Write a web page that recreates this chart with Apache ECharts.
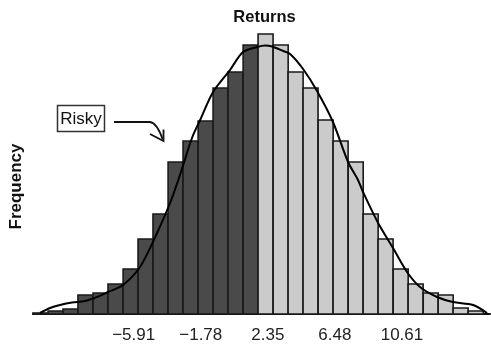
<!DOCTYPE html>
<html><head><meta charset="utf-8">
<script src="https://cdn.jsdelivr.net/npm/echarts@6/dist/echarts.min.js"></script>
<style>html,body{margin:0;padding:0;background:#fff}#c{width:491px;height:345px}</style>
</head><body><div id="c"></div>
<script>
// Histogram bins (bin centres, in return units) and frequencies
const binWidth = 0.924;
const riskyCenters = [-11.65,-10.72,-9.80,-8.88,-7.95,-7.03,-6.10,-5.18,-4.26,-3.33,-2.41,-1.48,-0.56,0.36,1.29];
const riskyFreq    = [1,3,5,19,21,30,45,75,100,152,173,193,226,242,269];
const safeCenters  = [2.21,3.14,4.06,4.98,5.91,6.83,7.76,8.68,9.60,10.53,11.45,12.38,13.30,14.22,15.15];
const safeFreq     = [280,269,242,226,194,173,152,100,75,45,30,21,19,6,3];
// Fitted density curve
const curveX = [-11.68,-11.06,-10.45,-9.71,-8.91,-8.17,-7.49,-6.57,-5.52,-4.47,-3.67,-3.06,-2.32,-1.82,-1.02,0.02,0.82,1.69,2.18,2.61,3.29,3.72,4.52,5.38,6.36,7.29,7.90,8.21,9.14,10.06,10.92,11.72,12.77,13.75,14.99,15.85];
const curveY = [1,6,9,11.5,13,17,22,29,47,81,111,139,176,194,222,244,262,267,268.5,267.5,263,260,245,223,192,152,134,122,91,66,42,27,17,12,9,1];
// Axis tick labels
const tickValues = [-5.91,-1.78,2.35,6.48,10.61];
const tickLabels = ['\u22125.91','\u22121.78','2.35','6.48','10.61'];

const FONT = '"Liberation Sans", Arial, Helvetica, sans-serif';
const chart = echarts.init(document.getElementById('c'), null, {renderer:'canvas'});

function barRender(fill){
  return function(params, api){
    const lo = api.coord([api.value(0) - binWidth/2, 0]);
    const hi = api.coord([api.value(0) + binWidth/2, api.value(1)]);
    return {
      type:'rect',
      shape:{x:lo[0], y:hi[1], width:hi[0]-lo[0], height:lo[1]-hi[1]},
      style:{fill:fill, stroke:'#1a1a1a', lineWidth:1.6}
    };
  };
}

chart.setOption({
  animation:false,
  backgroundColor:'#fff',
  grid:{left:33, right:1, top:14, bottom:31},
  xAxis:{
    type:'value', min:-12.11, max:16.03,
    axisLine:{show:true, onZero:false, lineStyle:{color:'#111', width:2}},
    axisTick:{show:false},
    splitLine:{show:false},
    axisLabel:{
      customValues: tickValues,
      margin:13,
      fontFamily:FONT, fontSize:17, color:'#222',
      formatter:function(v){
        let best=0, d=1e9;
        tickValues.forEach((t,i)=>{ if(Math.abs(t-v)<d){d=Math.abs(t-v);best=i;} });
        return tickLabels[best];
      }
    }
  },
  yAxis:{type:'value', min:0, max:300, show:false},
  series:[
    {type:'custom', name:'Risky', renderItem:barRender('#4a4a4a'),
     data:riskyCenters.map((c,i)=>[c,riskyFreq[i]]), z:2},
    {type:'custom', name:'Safe', renderItem:barRender('#cbcbcb'),
     data:safeCenters.map((c,i)=>[c,safeFreq[i]]), z:2},
    {type:'line', data:curveX.map((x,i)=>[x,curveY[i]]), smooth:0.3,
     symbol:'none', lineStyle:{color:'#000', width:2}, z:5}
  ],
  graphic:[
    {type:'text', x:264.5, y:17.5, z:10,
     style:{text:'Returns', font:'bold 16.5px '+FONT, fill:'#111', align:'center', verticalAlign:'middle'}},
    {type:'text', x:16.5, y:186.5, rotation:Math.PI/2, z:10,
     style:{text:'Frequency', font:'bold 17px '+FONT, fill:'#111', align:'center', verticalAlign:'middle'}},
    {type:'rect', shape:{x:57.5, y:105.5, width:47, height:26}, z:10,
     style:{fill:'#fff', stroke:'#333', lineWidth:1.5}},
    {type:'text', x:81, y:119, z:11,
     style:{text:'Risky', font:'17px '+FONT, fill:'#111', align:'center', verticalAlign:'middle'}},
    {type:'line', z:10, shape:{x1:114, y1:122, x2:150, y2:122},
     style:{stroke:'#111', lineWidth:1.8}},
    {type:'bezierCurve', z:10, shape:{x1:150, y1:122, cpx1:157, cpy1:123, x2:162.5, y2:139},
     style:{fill:null, stroke:'#111', lineWidth:1.8}},
    {type:'polyline', z:10, shape:{points:[[150,134],[163.5,141],[163.5,129.5]]},
     style:{fill:null, stroke:'#111', lineWidth:1.8}}
  ]
});
</script>
</body></html>
